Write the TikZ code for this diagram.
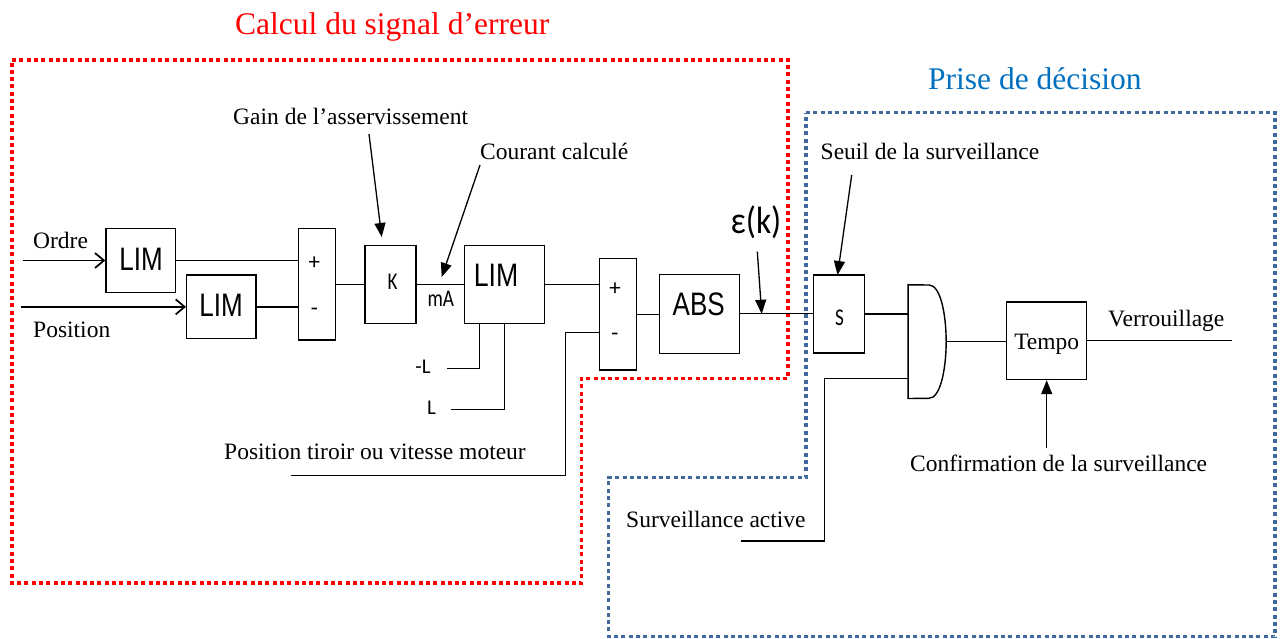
\documentclass[tikz,border=0pt]{standalone}
\usepackage{fontspec}
\setmainfont{Liberation Serif}
\newfontfamily\lsans{Liberation Sans}
\newfontfamily\carl{Carlito}
\usetikzlibrary{arrows.meta,calc}
\definecolor{titleblue}{RGB}{0,112,192}
\definecolor{dotblue}{RGB}{65,105,155}
\tikzset{
  blk/.style={draw, line width=1.4pt, inner sep=0pt},
  ghost/.style={inner sep=0pt},
  wire/.style={line width=1.3pt},
  farr/.style={wire, -{Triangle[length=14pt,width=11pt]}},
  inarr/.style={line width=1.7pt, -{Straight Barb[length=9pt,width=15pt]}},
  lbl/.style={anchor=base west, inner sep=0pt, font=\fontsize{23.5}{25}\selectfont},
  ttl/.style={anchor=base west, inner sep=0pt, font=\fontsize{31.5}{33}\selectfont},
  big/.style={anchor=base, inner sep=0pt, font=\lsans\fontsize{32.5}{34}\selectfont},
  small/.style={anchor=base, inner sep=0pt, font=\carl\fontsize{24}{26}\selectfont},
  tiny/.style={anchor=base, inner sep=0pt, font=\carl\fontsize{21}{23}\selectfont},
  pm/.style={inner sep=0pt, font=\carl\fontsize{23}{25}\selectfont},
  reddot/.style={draw=red, line width=3.5pt, dash pattern=on 4pt off 3.3pt},
  bluedot/.style={draw=dotblue, line width=3.5pt, dash pattern=on 4pt off 3.3pt}
}
\begin{document}
\begin{tikzpicture}[x=1pt,y=-1pt]
\useasboundingbox (0,0) rectangle (1284,639);

% group frames
\draw[reddot] (12,60) -- (788,60) -- (788,378.3) -- (581.7,378.3) -- (581.7,583) -- (12,583) -- cycle;
\draw[bluedot] (806,112.7) -- (1275,112.7) -- (1275,636.5) -- (608.5,636.5) -- (608.5,477.5) -- (806,477.5) -- cycle;

% titles
\node[ttl, text=red] (t1) at (235,34.3) {Calcul du signal d’erreur};
\node[ttl, text=titleblue] (t2) at (928,90) {Prise de décision};

% blocks
\node[blk, minimum width=69.7pt, minimum height=64.4pt] (lim1) at (140.85,260.5) {};
\node[big] (lim1t) at (141,270.7) {\scalebox{0.8}[1]{LIM}};
\node[blk, minimum width=69.3pt, minimum height=63.7pt] (lim2) at (221.35,306.85) {};
\node[big] (lim2t) at (221,316.7) {\scalebox{0.8}[1]{LIM}};
\node[blk, minimum width=37.4pt, minimum height=111.7pt] (sum1) at (317,284.15) {};
\node[pm] (sum1p) at (314.3,263.3) {+};
\node[pm] (sum1m) at (314.3,311.7) {-};
\node[blk, minimum width=51pt, minimum height=77.6pt] (k) at (390.5,284.5) {};
\node[small] (kt) at (392.5,289.3) {\scalebox{0.8}[1]{K}};
\node[small] (ma) at (440.8,306.7) {\scalebox{0.8}[1]{mA}};
\node[blk, minimum width=80pt, minimum height=77.6pt] (lim3) at (504.3,284.5) {};
\node[big] (lim3t) at (496,286.7) {\scalebox{0.82}[1]{LIM}};
\node[tiny] (mlt) at (423,373.3) {-L};
\node[tiny] (plt) at (431.5,414) {L};
\node[blk, minimum width=37pt, minimum height=111.7pt] (sum2) at (617.8,314.15) {};
\node[pm] (sum2p) at (615,289.3) {+};
\node[pm] (sum2m) at (615,336.7) {-};
\node[blk, minimum width=80pt, minimum height=79pt] (abs) at (699.3,313.8) {};
\node[big] (abst) at (698.7,315.3) {\scalebox{0.8}[1]{ABS}};
\node[anchor=base, inner sep=0pt, font=\carl\fontsize{38}{40}\selectfont] (eps) at (756,233.3) {\scalebox{0.88}[1]{ε(k)}};
\node[blk, minimum width=51pt, minimum height=78pt] (s) at (838.85,314) {};
\node[small] (st) at (839.5,325) {\scalebox{0.8}[1]{S}};
\node[ghost, minimum width=37.7pt, minimum height=113.3pt] (gate) at (927.15,341.65) {};
\draw[line width=1.4pt] (gate.north west) -- (929,285) .. controls (940,285) and (946,312) .. (gate.east) .. controls (946,371) and (940,398.3) .. (929,398.3) -- (gate.south west) -- cycle;
\node[blk, minimum width=80pt, minimum height=77.5pt] (tempo) at (1046.7,340.75) {};
\node[anchor=base, inner sep=0pt, font=\fontsize{23.5}{25}\selectfont] (tempot) at (1046.7,349.3) {Tempo};

% labels
\node[lbl] (ordre) at (33,248.7) {Ordre};
\node[lbl] (position) at (33,337.7) {Position};
\node[lbl] (gain) at (233,125) {Gain de l’asservissement};
\node[lbl] (courant) at (480,159.3) {Courant calculé};
\node[lbl] (ptiroir) at (224,459.3) {Position tiroir ou vitesse moteur};
\node[lbl] (seuil) at (820.5,159.3) {Seuil de la surveillance};
\node[lbl] (verr) at (1108,326.7) {Verrouillage};
\node[lbl] (confirm) at (910,471.7) {Confirmation de la surveillance};
\node[lbl] (sactive) at (626,527.7) {Surveillance active};

% free ends
\coordinate (ordreIn) at (23,260.5);
\coordinate (posIn) at (21,306.85);
\coordinate (mL) at (446.7,368.3);
\coordinate (pL) at (450.7,409.3);
\coordinate (ptIn) at (290.7,475.5);
\coordinate (saIn) at (740.7,541);
\coordinate (verOut) at (1232,340.75);
\coordinate (gainA) at (369,134);
\coordinate (gainB) at (381.7,237);
\coordinate (courA) at (480,165);
\coordinate (courB) at (441.7,277);
\coordinate (epsA) at (757.3,251.7);
\coordinate (epsB) at (761.7,313.8);
\coordinate (seuilA) at (851.7,175);
\coordinate (seuilB) at (837.5,275);
\coordinate (confA) at (1046.7,448.3);

% connectors
\draw[inarr] (ordreIn) -- (lim1.west);
\draw[inarr] (posIn) -- (lim2.west);
\draw[wire] (lim1.east) -- (lim1.east -| sum1.west);
\draw[wire] (lim2.east) -- (lim2.east -| sum1.west);
\draw[wire] (sum1.east) -- (sum1.east -| k.west);
\draw[wire] (k.east) -- (lim3.west);
\draw[wire] (lim3.east) -- (lim3.east -| sum2.west);
\draw[wire] (lim3.south -| 479.3,0) |- (mL);
\draw[wire] (lim3.south -| 504.3,0) |- (pL);
\draw[wire] (ptIn) -- (565.7,475.5) |- (sum2.west |- 0,332.7);
\draw[wire] (sum2.east) -- (sum2.east -| abs.west);
\draw[wire] (abs.east) -- (abs.east -| s.west);
\draw[wire] (s.east) -- (s.east -| gate.west);
\draw[wire] (saIn) -| (824.2,378.3) -- (gate.west |- 0,378.3);
\draw[wire] (gate.east) -- (gate.east -| tempo.west);
\draw[wire] (tempo.east) -- (verOut);

\draw[farr] (gainA) -- (gainB);
\draw[farr] (courA) -- (courB);
\draw[farr] (epsA) -- (epsB);
\draw[farr] (seuilA) -- (seuilB);
\draw[farr] (confA) -- (tempo.south);
\end{tikzpicture}
\end{document}
